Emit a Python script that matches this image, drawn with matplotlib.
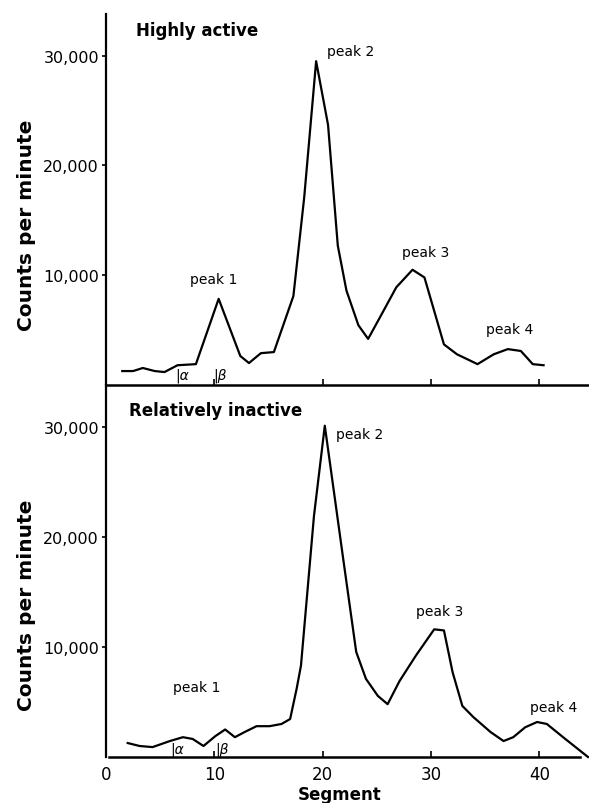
import matplotlib
matplotlib.use("Agg")
import matplotlib.pyplot as plt

# segment positions and counts per minute
seg_active = [1.5, 2.5, 3.4, 4.5, 5.4, 6.6, 8.3, 10.4, 12.4, 13.2, 14.3, 15.5,
              17.3, 18.3, 19.4, 20.5, 21.4, 22.2, 23.3, 24.2, 25.4, 26.8, 28.3,
              29.4, 31.2, 32.4, 34.3, 35.8, 37.1, 38.3, 39.4, 40.4]
cpm_active = [1270, 1270, 1550, 1270, 1180, 1800, 1900, 7850, 2640, 2000, 2900, 3000,
              8100, 17100, 29500, 23700, 12700, 8600, 5450, 4200, 6360, 8900, 10500,
              9800, 3700, 2800, 1900, 2800, 3270, 3100, 1900, 1800]

seg_inactive = [2.0, 3.1, 4.3, 5.9, 7.1, 8.0, 9.0, 10.1, 11.0, 11.9, 12.8, 13.9,
                15.1, 16.2, 17.0, 17.6, 18.0, 19.2, 20.2, 21.9, 23.1, 24.0, 25.1,
                26.0, 27.1, 28.6, 30.3, 31.2, 32.0, 32.9, 33.9, 35.5, 36.7, 37.6,
                38.7, 39.8, 40.7, 42.2, 44.5]
cpm_inactive = [1270, 1000, 900, 1450, 1800, 1640, 1000, 1900, 2500, 1800, 2270, 2800,
                2800, 3000, 3450, 6200, 8300, 21900, 30100, 18000, 9550, 7100, 5550,
                4800, 6900, 9200, 11600, 11500, 7700, 4640, 3640, 2270, 1450, 1800,
                2700, 3180, 3000, 1800, 0]

peak_names = ["peak 1", "peak 2", "peak 3", "peak 4"]
peak_pos_active = [(9.9, 9640), (22.6, 30450), (29.5, 12090), (37.3, 5090)]
peak_pos_inactive = [(8.35, 6360), (23.4, 29360), (30.8, 13270), (41.3, 4550)]

yticks = [10000, 20000, 30000]
ytick_labels = ["10,000", "20,000", "30,000"]
xticks = [0, 10, 20, 30, 40]

fig = plt.figure(figsize=(5.89, 8.04), dpi=100)
left = 106 / 589
right = 588 / 589
ax1 = fig.add_axes([left, 1 - 386 / 804, right - left, (386 - 15) / 804])
ax2 = fig.add_axes([left, 1 - 758 / 804, right - left, (758 - 386) / 804])

for ax in (ax1, ax2):
    ax.set_xlim(0.28, 44.5)
    ax.set_ylim(0, 33800)
    ax.spines["top"].set_visible(False)
    ax.spines["right"].set_visible(False)
    ax.spines["left"].set_linewidth(1.6)
    ax.spines["bottom"].set_linewidth(1.8)
    ax.set_yticks(yticks)
    ax.set_yticklabels(ytick_labels, fontsize=11.5)
    ax.tick_params(axis="y", direction="out", length=3, width=1.2, pad=2)
    ax.tick_params(axis="x", direction="in", length=4, width=1.2)
    ax.set_xticks(xticks)
    ax.set_ylabel("Counts per minute", fontsize=14.5, fontweight="bold")
    ax.patch.set_alpha(0)

ax1.yaxis.set_label_coords(-0.145, 0.434)
ax2.yaxis.set_label_coords(-0.145, 0.411)

ax1.tick_params(axis="x", labelbottom=False)
ax2.set_xticklabels([str(v) for v in xticks], fontsize=12)
ax2.tick_params(axis="x", pad=6)
ax2.spines["bottom"].set_bounds(0.28, 43.8)
ax2.set_xlabel("Segment", fontsize=12, fontweight="bold")
ax2.xaxis.set_label_coords((340 - 106) / 482, -0.075)

ax1.plot(seg_active, cpm_active, color="black", linewidth=1.6, clip_on=False)
ax2.plot(seg_inactive, cpm_inactive, color="black", linewidth=1.6, clip_on=False)

ax1.text(2.75, 32360, "Highly active", fontsize=12, fontweight="bold",
         va="center", ha="left")
ax2.text(2.1, 31545, "Relatively inactive", fontsize=12, fontweight="bold",
         va="center", ha="left")

for name, (x, y) in zip(peak_names, peak_pos_active):
    ax1.text(x, y, name, fontsize=10, ha="center", va="center")
for name, (x, y) in zip(peak_names, peak_pos_inactive):
    ax2.text(x, y, name, fontsize=10, ha="center", va="center")

# hand-written alpha / beta marks
ax1.text(7.0, 950, "|α", fontsize=10, ha="center", va="center", style="italic")
ax1.text(10.5, 950, "|β", fontsize=10, ha="center", va="center", style="italic")
ax2.text(6.6, 730, "|α", fontsize=10, ha="center", va="center", style="italic")
ax2.text(10.7, 730, "|β", fontsize=10, ha="center", va="center", style="italic")

fig.savefig("out.png", dpi=100)
